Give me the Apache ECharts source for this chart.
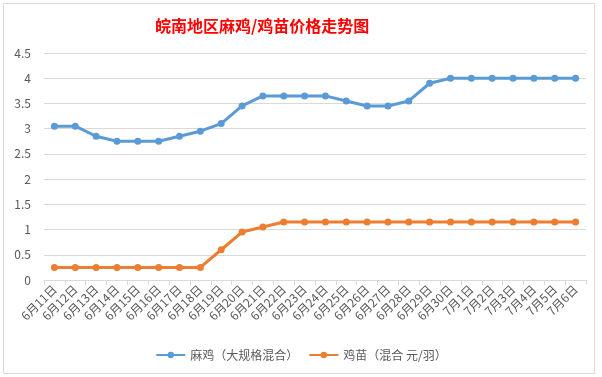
<!DOCTYPE html>
<html lang="zh">
<head>
    <meta charset="UTF-8">
    <title>皖南地区麻鸡/鸡苗价格走势图</title>
    <script type="text/javascript" src="https://cdn.jsdelivr.net/npm/echarts@6/dist/echarts.min.js"></script>
    <style>
        html, body { margin: 0; padding: 0; background: #fff; }
    </style>
</head>
<body>
<div id="main" style="width: 602px;height:377px;"></div>

<script type="text/javascript">
    // 日期
    var dates = ['6月11日', '6月12日', '6月13日', '6月14日', '6月15日', '6月16日', '6月17日',
        '6月18日', '6月19日', '6月20日', '6月21日', '6月22日', '6月23日', '6月24日', '6月25日',
        '6月26日', '6月27日', '6月28日', '6月29日', '6月30日', '7月1日', '7月2日', '7月3日',
        '7月4日', '7月5日', '7月6日'];
    // 麻鸡（大规格混合）
    var maji = [3.05, 3.05, 2.85, 2.75, 2.75, 2.75, 2.85, 2.95, 3.1, 3.45, 3.65, 3.65, 3.65,
        3.65, 3.55, 3.45, 3.45, 3.55, 3.9, 4, 4, 4, 4, 4, 4, 4];
    // 鸡苗（混合 元/羽）
    var jimiao = [0.25, 0.25, 0.25, 0.25, 0.25, 0.25, 0.25, 0.25, 0.6, 0.95, 1.05, 1.15, 1.15,
        1.15, 1.15, 1.15, 1.15, 1.15, 1.15, 1.15, 1.15, 1.15, 1.15, 1.15, 1.15, 1.15];
    var names = ['麻鸡（大规格混合）', '鸡苗（混合 元/羽）'];

    var chartDom = document.getElementById('main');
    var myChart = echarts.init(chartDom);

    var font = '"Noto Sans CJK SC", "Microsoft YaHei", sans-serif';

    var option = {
        animation: false,
        textStyle: {fontFamily: font},
        title: {
            text: '皖南地区麻鸡/鸡苗价格走势图',
            left: 150,
            top: 13,
            textStyle: {color: '#ff0000', fontSize: 16, fontWeight: 'bold', fontFamily: font}
        },
        // 外框
        graphic: [
            {
                type: 'rect',
                shape: {x: 3.5, y: 3.5, width: 591, height: 370},
                style: {fill: null, stroke: '#d9d9d9', lineWidth: 1},
                silent: true
            }
        ],
        grid: {left: 44, right: 16, top: 53, bottom: 97},
        legend: {
            data: names,
            bottom: 11,
            left: 'center',
            itemWidth: 29,
            itemHeight: 8,
            itemGap: 10,
            textStyle: {color: '#595959', fontSize: 12, fontFamily: font}
        },
        xAxis: {
            type: 'category',
            data: dates,
            axisLine: {lineStyle: {color: '#d9d9d9'}},
            axisTick: {show: true, length: 5, lineStyle: {color: '#d9d9d9'}},
            axisLabel: {rotate: 45, color: '#595959', fontSize: 12, margin: 7, interval: 0}
        },
        yAxis: {
            type: 'value',
            min: 0,
            max: 4.5,
            interval: 0.5,
            axisLine: {show: false},
            axisTick: {show: false},
            axisLabel: {color: '#595959', fontSize: 12, margin: 13},
            splitLine: {lineStyle: {color: '#d9d9d9'}}
        },
        series: [
            {
                name: names[0],
                type: 'line',
                data: maji,
                symbol: 'circle',
                symbolSize: 7,
                lineStyle: {width: 3, color: '#5b9bd5'},
                itemStyle: {color: '#5b9bd5'}
            },
            {
                name: names[1],
                type: 'line',
                data: jimiao,
                symbol: 'circle',
                symbolSize: 7,
                lineStyle: {width: 3, color: '#ed7d31'},
                itemStyle: {color: '#ed7d31'}
            }
        ]
    };

    option && myChart.setOption(option);
</script>
</body>
</html>
